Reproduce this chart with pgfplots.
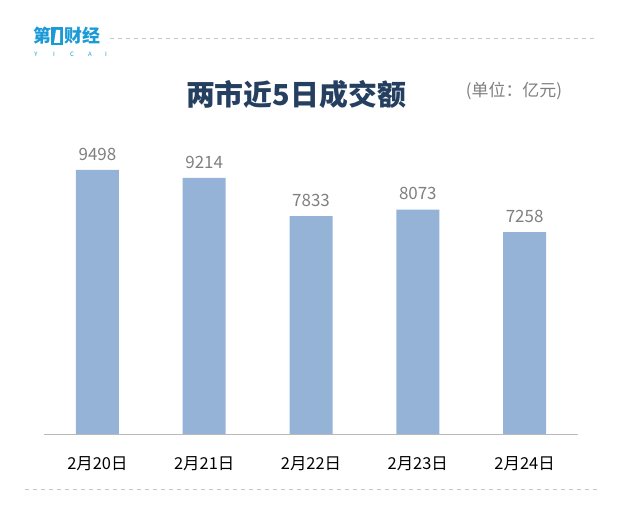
\documentclass[border=0pt]{standalone}
\usepackage{fontspec}
\setmainfont{Noto Sans CJK SC}
\usepackage{pgfplots}
\pgfplotsset{compat=1.18}
\definecolor{barblue}{HTML}{95B3D7}
\definecolor{titlenavy}{HTML}{243F60}
\definecolor{logoblue}{HTML}{1A9AD6}
\definecolor{lblgray}{HTML}{7F7F7F}
\begin{document}
\begin{tikzpicture}[x=1bp,y=1bp]
\path[use as bounding box] (0,0) rectangle (617,513);
% header / footer
\draw[gray!45, line width=0.8bp, dash pattern=on 4bp off 4bp] (110,475) -- (598,475);
\draw[gray!45, line width=0.8bp, dash pattern=on 4bp off 4bp] (25,24) -- (598,24);
% logo
\node[anchor=west, inner sep=0, text=logoblue, font=\bfseries\fontsize{18}{18}\selectfont] at (33,477) {第};
\fill[logoblue] (51,468) rectangle (63,486);
\fill[white] (54,470) -- (60,470) -- (60,483) -- (56,483) -- cycle;
\node[anchor=west, inner sep=0, text=logoblue, font=\bfseries\fontsize{18}{18}\selectfont] at (64,477) {财经};
\foreach \c/\xx in {Y/36,I/54,C/72,A/90,I/106}{
  \node[inner sep=0, text=logoblue, font=\fontsize{6}{6}\selectfont] at (\xx,459) {\c};
}
% titles
\node[text=titlenavy, font=\bfseries\fontsize{29}{29}\selectfont] at (296,418) {两市近5日成交额};
\node[text=lblgray, font=\fontsize{17}{17}\selectfont] at (514,422) {(单位：亿元)};
\begin{axis}[
  at={(44bp,79bp)}, anchor=south west,
  width=534bp, height=300bp, scale only axis,
  xmin=-0.5, xmax=4.5, ymin=0, ymax=10791,
  axis x line*=bottom, axis y line=none,
  x axis line style={draw=gray!55, line width=0.8bp, -},
  xtick={0,1,2,3,4},
  xticklabels={2月20日,2月21日,2月22日,2月23日,2月24日},
  major tick length=0pt,
  xticklabel style={font=\fontsize{16.5}{16.5}\selectfont, text=black, yshift=-19bp},
  ybar, bar width=43bp,
  point meta=explicit symbolic,
  nodes near coords,
  nodes near coords style={font=\fontsize{17}{17}\selectfont, text=lblgray, yshift=6bp},
  clip=false,
]
\addplot[fill=barblue, draw=none] coordinates {
  (0,9498) [9498]
  (1,9214) [9214]
  (2,7833) [7833]
  (3,8073) [8073]
  (4,7258) [7258]
};
\end{axis}
\end{tikzpicture}
\end{document}
